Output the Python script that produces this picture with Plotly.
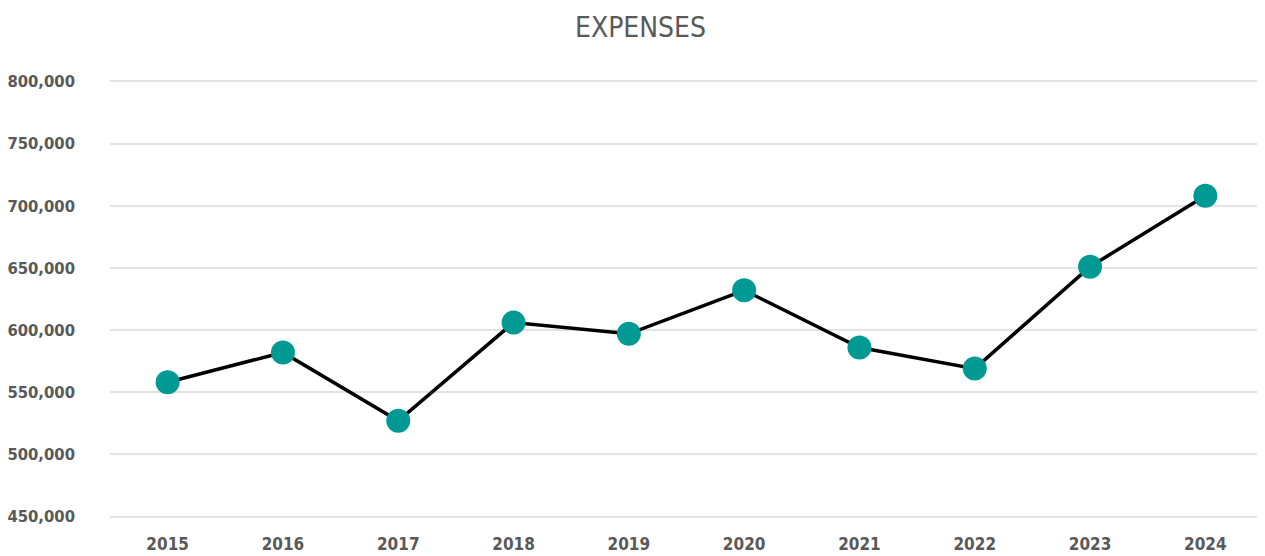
import plotly.graph_objects as go

years = ["2015", "2016", "2017", "2018", "2019", "2020", "2021", "2022", "2023", "2024"]
expenses = [558000, 582000, 527000, 606000, 597000, 632000, 586000, 569000, 651000, 708000]
y_ticks = [450000, 500000, 550000, 600000, 650000, 700000, 750000, 800000]

FONT = "DejaVu Sans Condensed, Liberation Sans Narrow, Arial Narrow, sans-serif"

fig = go.Figure(go.Scatter(
    x=years, y=expenses, mode="lines+markers",
    line=dict(color="#000000", width=3.5),
    marker=dict(color="#009994", size=24),
    hoverinfo="x+y",
    cliponaxis=False,
))

fig.update_layout(
    width=1265, height=556,
    paper_bgcolor="white", plot_bgcolor="white",
    margin=dict(l=102, r=10, t=71, b=45),
    title=dict(text="EXPENSES", x=0.5, xanchor="center", y=0.965, yanchor="middle",
               font=dict(family=FONT, size=28, color="#595959")),
    showlegend=False,
    xaxis=dict(type="category", range=[-0.5, 9.5], showgrid=False, zeroline=False,
               showline=False, automargin=False, ticks="", ticklabelstandoff=13,
               tickfont=dict(family=FONT, size=17, color="#595959", weight="bold")),
    yaxis=dict(range=[448000, 802000], tickvals=y_ticks, tickformat=",d", automargin=False,
               showgrid=True, gridcolor="#e3e3e3", gridwidth=2, zeroline=False,
               showline=False, ticks="", ticklabelstandoff=34,
               tickfont=dict(family=FONT, size=16.5, color="#595959", weight="bold")),
)

fig.write_html("out.html")
